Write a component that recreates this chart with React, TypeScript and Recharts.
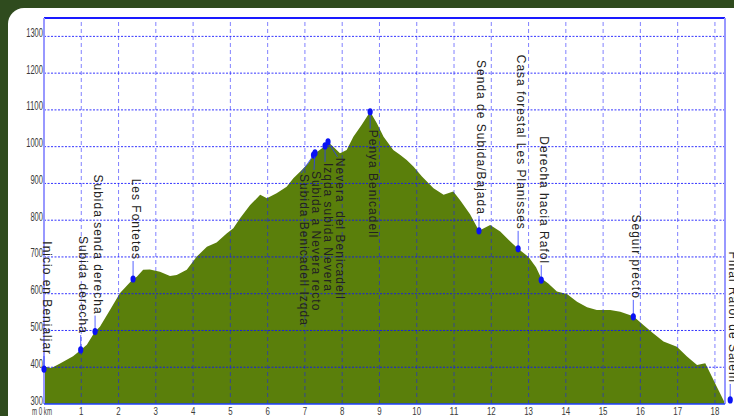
import React from 'react';
import { AreaChart, Area, XAxis, YAxis, ReferenceLine, ReferenceDot } from 'recharts';

// Elevation profile (km along route, metres)
const profileKm = [
  0, 0.2, 0.43, 0.78, 0.985, 1.15, 1.37, 1.5, 1.77, 2.04, 2.39, 2.49, 2.66, 2.84, 3.11, 3.38, 3.56, 3.83,
  4.1, 4.37, 4.63, 4.9, 5.08, 5.26, 5.53, 5.8, 5.98, 6.24, 6.51, 6.69, 6.87, 7.09, 7.25, 7.54, 7.62, 7.76,
  7.94, 8.12, 8.3, 8.52, 8.75, 8.93, 9.11, 9.37, 9.55, 9.73, 9.91, 10.14, 10.45, 10.72, 10.98, 11.16, 11.43,
  11.67, 11.97, 12.24, 12.51, 12.72, 13.0, 13.2, 13.34, 13.53, 13.76, 14.03, 14.3, 14.57, 14.83, 15.19, 15.46,
  15.81, 16.08, 16.35, 16.62, 16.98, 17.25, 17.52, 17.74, 17.87, 18.05, 18.27,
];
const profileElev = [
  402, 398, 410, 430, 447, 461, 497, 510, 556, 602, 640, 646, 665, 666, 660, 648, 651, 665,
  701, 728, 739, 764, 778, 805, 841, 869, 860, 873, 891, 914, 932, 955, 980, 1002, 1013, 1000,
  982, 991, 1027, 1059, 1095, 1064, 1027, 991, 978, 964, 946, 919, 887, 869, 878, 855, 816,
  771, 787, 769, 742, 722, 700, 672, 642, 628, 606, 599, 578, 563, 556, 556, 551,
  539, 515, 492, 470, 456, 429, 406, 411, 384, 347, 302,
];

// Waypoints
const waypointNames = [
  'Inicio en Benialjar',
  'Subida derecha',
  'Subida senda derecha',
  'Les Fontetes',
  'Subida Benicadell Izqda',
  'Subida a Nevera recto',
  'Izqda subida Nevera',
  'Nevera  del Benicadell',
  'Penya Benicadell',
  'Senda de Subida/Bajada',
  'Casa forestal Les Planisses',
  'Derecha hacia Rafol',
  'Seguir precto',
  'Final Rafol de Salem',
];
const waypointKm = [0, 0.985, 1.37, 2.39, 7.23, 7.27, 7.54, 7.62, 8.75, 11.67, 12.72, 13.34, 15.81, 18.41];
const waypointElev = [395, 447, 497, 640, 977, 983, 1002, 1013, 1095, 771, 722, 637, 537, 311];

const xTicks = [0, 1, 2, 3, 4, 5, 6, 7, 8, 9, 10, 11, 12, 13, 14, 15, 16, 17, 18];
const yTicks = [300, 400, 500, 600, 700, 800, 900, 1000, 1100, 1200, 1300];

// Label placement (layout only): side of marker, baseline offset, gap from marker
const labelLayout = [
  { up: true, dx: -1.5, gap: 14 },
  { up: true, dx: -1.5, gap: 16 },
  { up: true, dx: -1.5, gap: 17 },
  { up: true, dx: -1.5, gap: 19 },
  { up: false, dx: -14, gap: 19 },
  { up: false, dx: -2.5, gap: 18 },
  { up: false, dx: -1.5, gap: 17 },
  { up: false, dx: 8, gap: 16 },
  { up: false, dx: -1.5, gap: 18 },
  { up: true, dx: -1.5, gap: 16 },
  { up: true, dx: -1.5, gap: 19 },
  { up: true, dx: -1.5, gap: 16 },
  { up: true, dx: -1.5, gap: 18 },
  { up: true, dx: -1.5, gap: 17 },
];

const data = profileKm.map((km, i) => ({ km, elev: profileElev[i] }));

const Waypoint = ({ cx, cy, name, layout }: any) => {
  if (cx == null || cy == null) return null;
  const bx = cx + layout.dx;
  const ty = layout.up ? cy - layout.gap : cy + layout.gap;
  const stemEndY = layout.up ? ty + 1 : ty - 1;
  return (
    <g>
      <line x1={cx} y1={cy} x2={bx + 1.5} y2={stemEndY} stroke="#2b3bff" strokeOpacity={0.8} strokeWidth={1} />
      <text
        x={bx}
        y={ty}
        transform={`rotate(90 ${bx} ${ty})`}
        textAnchor={layout.up ? 'end' : 'start'}
        fontFamily="'Liberation Sans', Arial, sans-serif"
        fontSize={12}
        letterSpacing={1}
        fill="#222"
        style={{ whiteSpace: 'pre' }}
      >
        {name}
      </text>
      <ellipse cx={cx} cy={cy} rx={2.6} ry={3.6} fill="#0a12f5" />
    </g>
  );
};

const TICK_FONT = "'Liberation Sans Narrow', 'Liberation Sans', Arial, sans-serif";

const YTick = ({ x, y, payload }: any) => {
  const s = String(payload.value);
  return (
    <text
      x={x}
      y={y + 0.5}
      textAnchor="end"
      fontFamily={TICK_FONT}
      fontSize={12.5}
      fill="#3a3a3a"
      textLength={s.length * 4.2}
      lengthAdjust="spacingAndGlyphs"
    >
      {s}
    </text>
  );
};

const XTick = ({ x, y, payload }: any) => {
  const v = payload.value;
  if (v === 0) {
    return (
      <text
        x={x - 12}
        y={y + 11}
        textAnchor="start"
        fontFamily={TICK_FONT}
        fontSize={11.5}
        fill="#3a3a3a"
        textLength={20}
        lengthAdjust="spacingAndGlyphs"
        style={{ whiteSpace: 'pre' }}
      >
        {'m 0 km'}
      </text>
    );
  }
  const s = String(v);
  return (
    <text
      x={x}
      y={y + 11}
      textAnchor="middle"
      fontFamily={TICK_FONT}
      fontSize={11.5}
      fill="#3a3a3a"
      textLength={s.length * 4.4}
      lengthAdjust="spacingAndGlyphs"
    >
      {s}
    </text>
  );
};

export default function App() {
  return (
    <div style={{ position: 'fixed', left: 0, top: 0, width: 734, height: 416, background: '#2f4b1e', overflow: 'hidden' }}>
      <div
        style={{
          position: 'absolute',
          left: 8,
          top: 8,
          width: 760,
          height: 440,
          background: '#ffffff',
          borderRadius: 16,
        }}
      />
      <div style={{ position: 'absolute', left: 0, top: 0 }}>
        <AreaChart width={734} height={416} data={data} margin={{ top: 18, right: 9, bottom: 0, left: 0 }}>
          <XAxis
            dataKey="km"
            type="number"
            domain={[0, 18.27]}
            allowDataOverflow
            ticks={xTicks}
            height={12}
            tickSize={0}
            tickMargin={0}
            tickLine={false}
            axisLine={false}
            tick={<XTick />}
            interval={0}
          />
          <YAxis
            type="number"
            domain={[300, 1350]}
            allowDataOverflow
            ticks={yTicks}
            width={44}
            tickSize={0}
            tickMargin={1}
            tickLine={false}
            axisLine={false}
            tick={<YTick />}
            interval={0}
          />
          <Area
            type="linear"
            dataKey="elev"
            stroke="none"
            fill="#5a7f0b"
            fillOpacity={1}
            baseValue={300}
            isAnimationActive={false}
            dot={false}
            activeDot={false}
          />
          {xTicks.slice(1).map((t) => (
            <ReferenceLine
              key={'vx' + t}
              x={t}
              stroke="#1a1aff"
              strokeOpacity={0.55}
              strokeWidth={1}
              strokeDasharray="4 3"
            />
          ))}
          {yTicks.slice(1).map((t) => (
            <ReferenceLine
              key={'hy' + t}
              y={t}
              stroke="#1010ff"
              strokeOpacity={0.85}
              strokeWidth={1}
              strokeDasharray="2 1.5"
            />
          ))}
          <ReferenceLine y={1350} stroke="#1a1aff" strokeWidth={2} />
          <ReferenceLine x={18.27} stroke="#9898ff" strokeWidth={2} />
          <ReferenceLine x={0} stroke="#9898ff" strokeWidth={2} />
          <ReferenceLine y={300} stroke="#2040ff" strokeWidth={1.5} />
          {waypointNames.map((name, i) => (
            <ReferenceDot
              key={'wp' + i}
              x={waypointKm[i]}
              y={waypointElev[i]}
              r={3}
              ifOverflow="visible"
              shape={(p: any) => <Waypoint cx={p.cx} cy={p.cy} name={name} layout={labelLayout[i]} />}
            />
          ))}
        </AreaChart>
      </div>
    </div>
  );
}
